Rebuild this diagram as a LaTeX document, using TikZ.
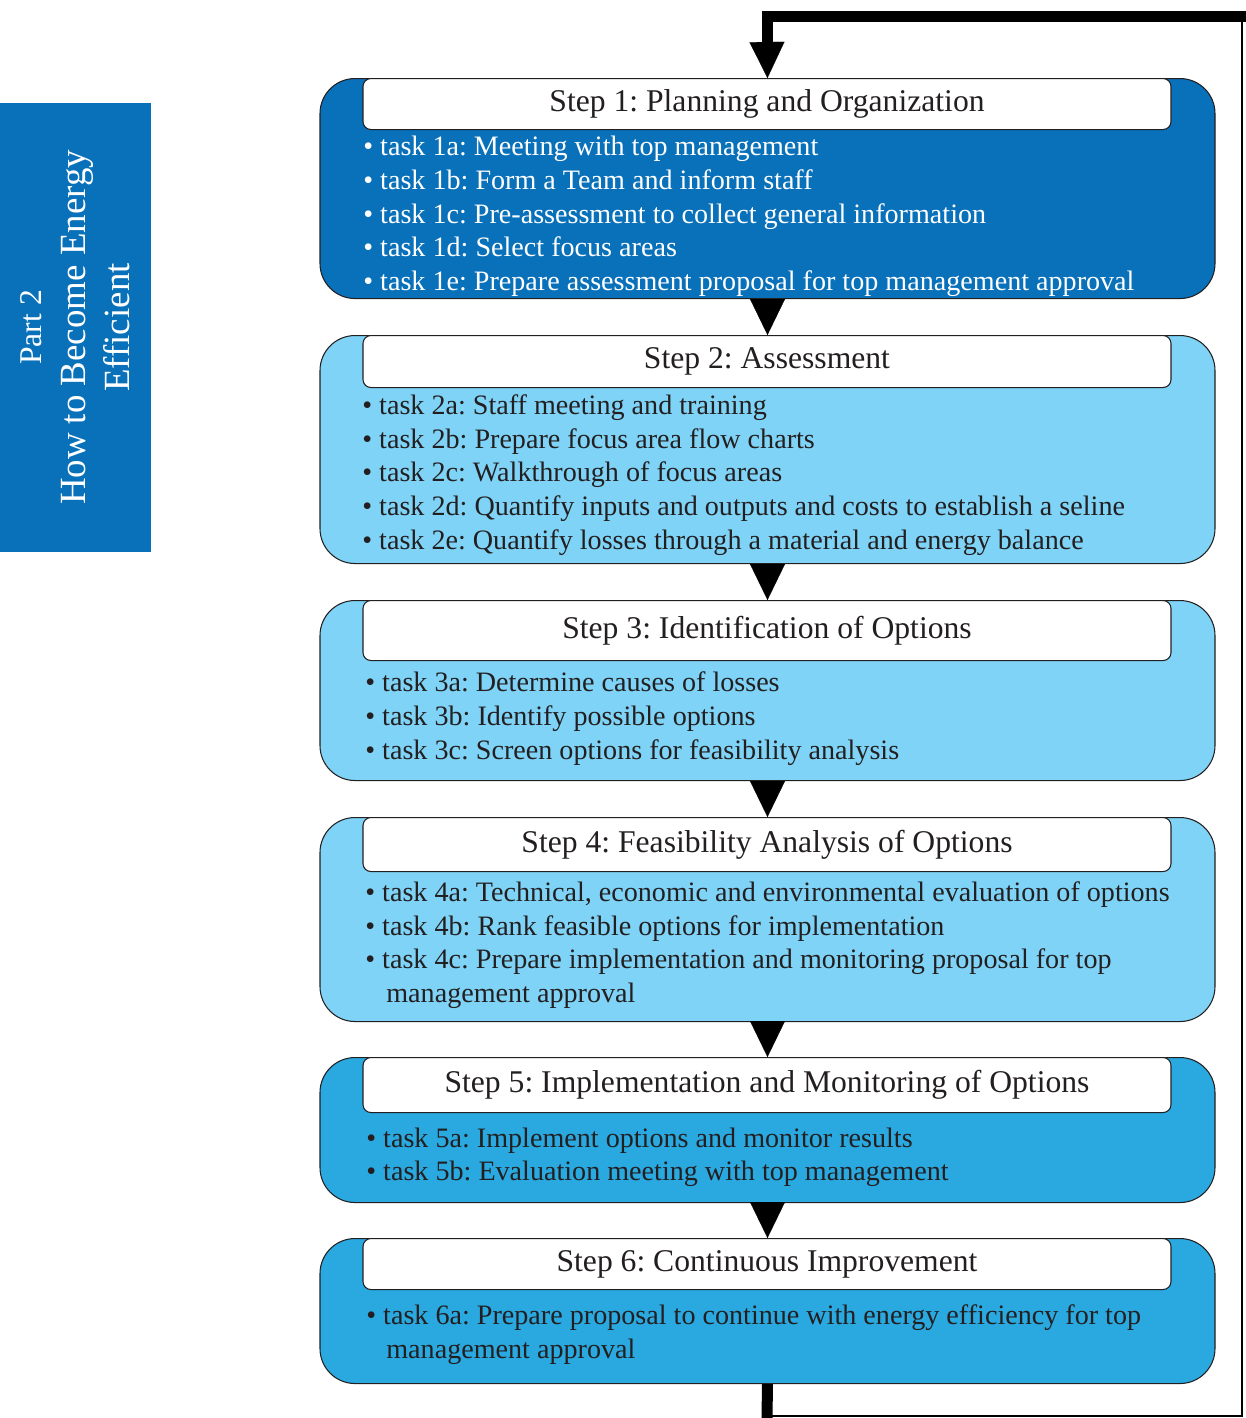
\documentclass[tikz,border=0pt]{standalone}
\usepackage{fontspec}
\setmainfont{Liberation Serif}
\usetikzlibrary{arrows.meta,positioning}
\definecolor{darkblue}{HTML}{0970BA}
\definecolor{lightblue}{HTML}{7ED3F6}
\definecolor{midblue}{HTML}{29A9E0}
\definecolor{ink}{HTML}{231F20}
\frenchspacing

\begin{document}
\begin{tikzpicture}[
  stepbox/.style={draw=ink,line width=0.6pt,rounded corners=0.7cm,minimum width=17.9cm,anchor=north},
  hd/.style={draw=ink,line width=0.6pt,fill=white,rounded corners=0.16cm,minimum width=16.16cm,
    anchor=north,text=ink,font=\fontsize{18}{21}\selectfont},
  task/.style={anchor=base west,inner sep=0pt,text=ink,font=\fontsize{16}{19}\selectfont},
  ar/.style={line width=0.1pt,-{Triangle[width=0.7cm,length=0.72cm]}},
  backline/.style={line width=0.22cm},
  thinback/.style={line width=1.1pt}]
\useasboundingbox (0,0) rectangle (24.92,-28.36);

% side banner
\node[fill=darkblue,minimum width=8.98cm,minimum height=3.02cm,rotate=90,align=center,
  text=white,font=\fontsize{21}{25}\selectfont] (part) at (1.51,-6.55)
  {{\fontsize{18}{25}\selectfont Part 2}\\How to Become Energy\\Efficient};

% step boxes
\node[stepbox,fill=darkblue,minimum height=4.40cm] (b1) at (15.35,-1.56) {};
\node[stepbox,fill=lightblue,minimum height=4.56cm] (b2) at (15.35,-6.70) {};
\node[stepbox,fill=lightblue,minimum height=3.60cm] (b3) at (15.35,-12.00) {};
\node[stepbox,fill=lightblue,minimum height=4.08cm] (b4) at (15.35,-16.34) {};
\node[stepbox,fill=midblue,minimum height=2.90cm] (b5) at (15.35,-21.14) {};
\node[stepbox,fill=midblue,minimum height=2.90cm] (b6) at (15.35,-24.76) {};

\node[hd,minimum height=1.02cm] (h1) at (15.34,-1.56) {Step 1: Planning and Organization};
\node[hd,minimum height=1.04cm] (h2) at (15.34,-6.70) {Step 2: Assessment};
\node[hd,minimum height=1.20cm] (h3) at (15.34,-12.00) {Step 3: Identification of Options};
\node[hd,minimum height=1.08cm] (h4) at (15.34,-16.34) {Step 4: Feasibility Analysis of Options};
\node[hd,minimum height=1.10cm] (h5) at (15.34,-21.14) {Step 5: Implementation and Monitoring of Options};
\node[hd,minimum height=1.02cm] (h6) at (15.34,-24.76) {Step 6: Continuous Improvement};

% tasks
\node[task,text=white] (t1a) at (7.26,-3.11) {\textbullet\ task 1a: Meeting with top management};
\node[task,text=white] (t1b) at (7.26,-3.79) {\textbullet\ task 1b: Form a Team and inform staff};
\node[task,text=white] (t1c) at (7.26,-4.47) {\textbullet\ task 1c: Pre-assessment to collect general information};
\node[task,text=white] (t1d) at (7.26,-5.13) {\textbullet\ task 1d: Select focus areas};
\node[task,text=white] (t1e) at (7.26,-5.81) {\textbullet\ task 1e: Prepare assessment proposal for top management approval};

\node[task] (t2a) at (7.24,-8.29) {\textbullet\ task 2a: Staff meeting and training};
\node[task] (t2b) at (7.24,-8.97) {\textbullet\ task 2b: Prepare focus area flow charts};
\node[task] (t2c) at (7.24,-9.63) {\textbullet\ task 2c: Walkthrough of focus areas};
\node[task] (t2d) at (7.24,-10.31) {\textbullet\ task 2d: Quantify inputs and outputs and costs to establish a seline};
\node[task] (t2e) at (7.24,-10.99) {\textbullet\ task 2e: Quantify losses through a material and energy balance};

\node[task] (t3a) at (7.30,-13.83) {\textbullet\ task 3a: Determine causes of losses};
\node[task] (t3b) at (7.30,-14.51) {\textbullet\ task 3b: Identify possible options};
\node[task] (t3c) at (7.30,-15.19) {\textbullet\ task 3c: Screen options for feasibility analysis};

\node[task] (t4a) at (7.30,-18.03) {\textbullet\ task 4a: Technical, economic and environmental evaluation of options};
\node[task] (t4b) at (7.30,-18.71) {\textbullet\ task 4b: Rank feasible options for implementation};
\node[task] (t4c) at (7.30,-19.37) {\textbullet\ task 4c: Prepare implementation and monitoring proposal for top};
\node[task] (t4d) at (7.72,-20.05) {management approval};

\node[task] (t5a) at (7.32,-22.95) {\textbullet\ task 5a: Implement options and monitor results};
\node[task] (t5b) at (7.32,-23.61) {\textbullet\ task 5b: Evaluation meeting with top management};

\node[task] (t6a) at (7.32,-26.49) {\textbullet\ task 6a: Prepare proposal to continue with energy efficiency for top};
\node[task] (t6b) at (7.72,-27.17) {management approval};

% arrows between steps
\draw[ar] (b1.south) -- (b2.north);
\draw[ar] (b2.south) -- (b3.north);
\draw[ar] (b3.south) -- (b4.north);
\draw[ar] (b4.south) -- (b5.north);
\draw[ar] (b5.south) -- (b6.north);

% feedback loop
\coordinate (lb) at (15.34,-28.36);
\coordinate (lc) at (15.34,-28.32);
\coordinate (rb) at (24.84,-28.32);
\coordinate (rt) at (24.84,-0.32);
\coordinate (re) at (24.92,-0.32);
\coordinate (lt) at (15.34,-0.32);
\coordinate (la) at (15.34,-0.86);
\draw[backline] (b6.south) -- (lb);
\draw[thinback] (lc) -- (rb) -- (rt);
\draw[backline] (re) -- (lt) -- (la);
\draw[ar] (la) -- (b1.north);
\end{tikzpicture}
\end{document}
